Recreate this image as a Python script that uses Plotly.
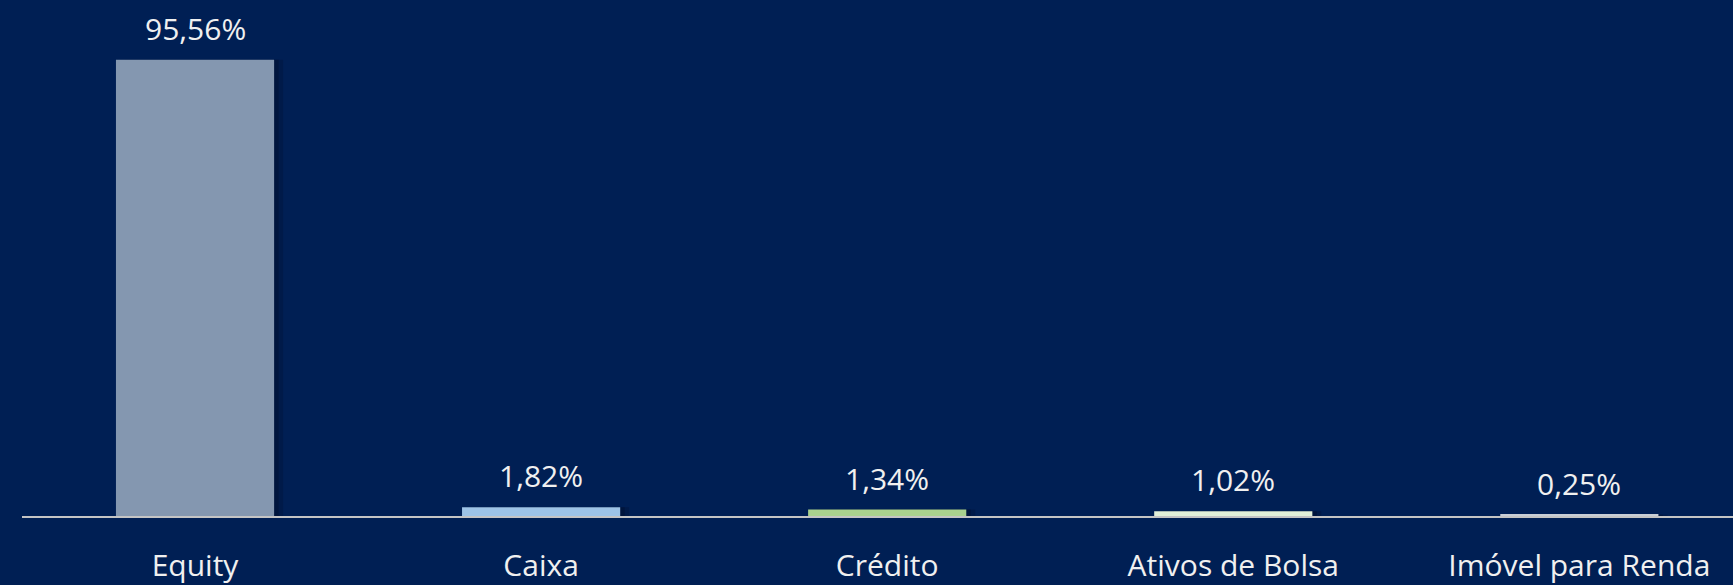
import plotly.graph_objects as go

categories = ["Equity", "Caixa", "Crédito", "Ativos de Bolsa", "Imóvel para Renda"]
values = [95.56, 1.82, 1.34, 1.02, 0.25]
bar_colors = ["#8497B0", "#9DC3E6", "#A9D18E", "#E2F0D9", "#C9CED6"]

labels = [f"{v:.2f}".replace(".", ",") + "%" for v in values]

BG = "#001F54"
FONT = "Open Sans, Noto Sans, sans-serif"
BAR_W = 0.457

fig = go.Figure()
# soft shadow behind bars (two faint layers)
for off, alpha in [(0.026, 0.18), (0.013, 0.25)]:
    fig.add_trace(go.Bar(
        x=categories, y=values, width=BAR_W, offset=-BAR_W / 2 + off,
        marker=dict(color=f"rgba(0,8,28,{alpha})", line=dict(width=0)),
        hoverinfo="skip",
    ))
fig.add_trace(go.Bar(
    x=categories, y=values, width=BAR_W, offset=-BAR_W / 2,
    marker=dict(color=bar_colors, line=dict(width=0)),
    hoverinfo="skip",
))

for c, v, t in zip(categories, values, labels):
    fig.add_annotation(
        x=c, y=v, text=t, showarrow=False, yanchor="bottom", yshift=9,
        font=dict(family=FONT, size=30, color="#F0F0F0"),
    )

fig.update_layout(
    width=1733, height=585,
    paper_bgcolor=BG, plot_bgcolor=BG,
    margin=dict(l=22, r=0, t=0, b=67),
    barmode="overlay",
    showlegend=False,
    xaxis=dict(
        type="category", range=[-0.5, 4.444],
        showline=True, linecolor="#C4C4C4", linewidth=2,
        showgrid=False, zeroline=False,
        ticks="outside", ticklen=0, ticklabelstandoff=22,
        tickfont=dict(family=FONT, size=30, color="#F0F0F0"),
    ),
    yaxis=dict(
        range=[0, 108.08], visible=False, showgrid=False, zeroline=False,
    ),
)

fig.write_html(
    "out.html",
    config={"displayModeBar": False},
    post_script="document.body.style.margin='0';document.body.style.background='#001F54';",
)
